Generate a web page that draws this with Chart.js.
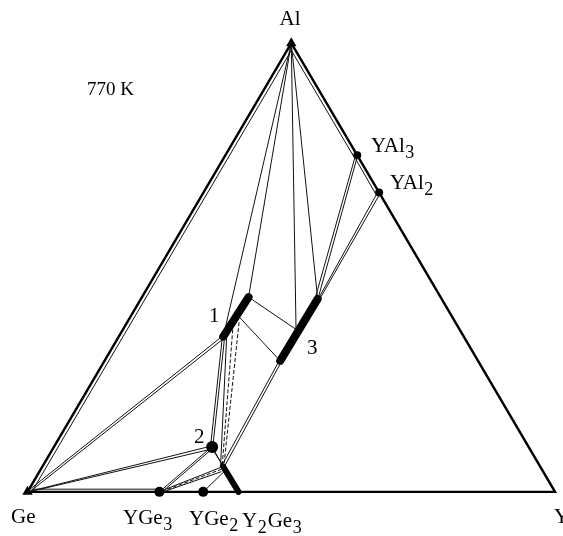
<!DOCTYPE html>
<html>
<head>
<meta charset="utf-8">
<script src="https://cdn.jsdelivr.net/npm/chart.js@4/dist/chart.umd.min.js"></script>
<style>
  html, body { margin: 0; padding: 0; background: #fff; }
  #wrap { width: 563px; height: 536px; }
</style>
</head>
<body>
<div id="wrap"><canvas id="grafico"></canvas></div>
<script>
// composiciones como [fraccion de Y, fraccion de Al]; el resto es Ge
const vertices = [[0, 1], [0, 0], [1, 0]];               // Al, Ge, Y
const compuestosNombres = ['YAl3', 'YAl2', 'YGe3', 'YGe2', '2'];
const compuestos = [[0.25, 0.75], [0.333, 0.667], [0.25, 0], [0.333, 0], [0.3, 0.1]];

// fases con rango de solubilidad (barras gruesas)
const barra1 = [[0.198, 0.346], [0.202, 0.434]];
const barra3 = [[0.333, 0.292], [0.335, 0.43]];
const barraY2Ge3 = [[0.4, 0], [0.342, 0.057]];

// lineas de enlace (tie lines), pares de composiciones
const lineasSolidas = [
  [[0.008, 0.985], [0.008, 0.008]],
  [[0, 1], [0.198, 0.346]],
  [[0, 1], [0.202, 0.434]],
  [[0, 1], [0.328, 0.362]],
  [[0, 1], [0.335, 0.43]],
  [[0.008, 0.984], [0.245, 0.747]],
  [[0.252, 0.741], [0.33, 0.662]],
  [[0.247, 0.749], [0.331, 0.426]],
  [[0.253, 0.742], [0.336, 0.428]],
  [[0.330, 0.664], [0.336, 0.431]],
  [[0.336, 0.662], [0.339, 0.428]],
  [[0.202, 0.434], [0.328, 0.362]],
  [[0.206, 0.39], [0.333, 0.292]],
  [[0.331, 0.294], [0.339, 0.058]],
  [[0.336, 0.293], [0.345, 0.056]],
  [[0.196, 0.347], [0.296, 0.102]],
  [[0.202, 0.343], [0.302, 0.098]],
  [[0, 0], [0.297, 0.102]],
  [[0.003, 0], [0.3, 0.095]],
  [[0, 0.003], [0.195, 0.345]],
  [[0.004, 0], [0.2, 0.34]],
  [[0.005, 0.006], [0.245, 0.006]],
  [[0.3, 0.1], [0.342, 0.057]],
  [[0.303, 0.095], [0.345, 0.055]],
  [[0.25, 0], [0.298, 0.098]],
  [[0.255, 0], [0.302, 0.096]],
  [[0.252, 0.002], [0.34, 0.055]],
  [[0.257, 0], [0.345, 0.045]],
  [[0.333, 0], [0.35, 0.045]],
  [[0.205, 0.345], [0.336, 0.06]]
];
const lineasDiscontinuas = [
  [[0.254, 0.001], [0.342, 0.05]],
  [[0.208, 0.362], [0.34, 0.058]],
  [[0.212, 0.378], [0.344, 0.056]]
];

// textos: [texto, subindice, texto, subindice], posicion en pixeles (izq, base)
const etiquetas = [
  { partes: ['Al'], x: 290, y: 25, centro: true },
  { partes: ['YAl', '3'], x: 371, y: 152 },
  { partes: ['YAl', '2'], x: 390, y: 189 },
  { partes: ['1'], x: 209, y: 322 },
  { partes: ['2'], x: 194, y: 443 },
  { partes: ['3'], x: 307, y: 354 },
  { partes: ['Ge'], x: 11, y: 523 },
  { partes: ['YGe', '3'], x: 123, y: 524 },
  { partes: ['YGe', '2'], x: 189, y: 525 },
  { partes: ['Y', '2', 'Ge', '3'], x: 242, y: 527 },
  { partes: ['Y'], x: 554, y: 523 }
];
const temperatura = '770 K';

function aXY(c) {
  return { x: c[0] + c[1] / 2, y: c[1] };
}

function segmentos(lista) {
  const datos = [];
  lista.forEach(function(par) {
    datos.push(aXY(par[0]), aXY(par[1]), { x: null, y: null });
  });
  return datos;
}

const lineaBase = { showLine: true, pointRadius: 0, fill: false, spanGaps: false, tension: 0 };

const pluginTextos = {
  id: 'textos',
  afterDatasetsDraw: function(chart) {
    const ctx = chart.ctx;
    ctx.save();
    ctx.fillStyle = '#000';
    ctx.textBaseline = 'alphabetic';
    ctx.font = '19px "Liberation Serif"';
    ctx.fillText(temperatura, 87, 95);
    etiquetas.forEach(function(e) {
      let x = e.x;
      if (e.centro) {
        ctx.font = '21px "Liberation Serif"';
        x -= ctx.measureText(e.partes.join('')).width / 2;
      }
      e.partes.forEach(function(p, i) {
        const sub = i % 2 === 1;
        ctx.font = sub ? '18px "Liberation Serif"' : '21px "Liberation Serif"';
        ctx.fillText(p, x, e.y + (sub ? 6 : 0));
        x += ctx.measureText(p).width + (sub ? 1 : 0.5);
      });
    });
    ctx.restore();
  }
};

new Chart(document.getElementById('grafico').getContext('2d'), {
  type: 'scatter',
  data: {
    datasets: [
      Object.assign({}, lineaBase, {
        data: segmentos(lineasSolidas), borderColor: '#111', borderWidth: 1
      }),
      Object.assign({}, lineaBase, {
        data: segmentos(lineasDiscontinuas), borderColor: '#111', borderWidth: 1, borderDash: [4, 2]
      }),
      Object.assign({}, lineaBase, {
        data: [aXY(vertices[0]), aXY(vertices[1]), aXY(vertices[2]), aXY(vertices[0])],
        borderColor: '#000', borderWidth: 2.4
      }),
      Object.assign({}, lineaBase, {
        data: segmentos([barra1, barra3]), borderColor: '#000', borderWidth: 8, borderCapStyle: 'round'
      }),
      Object.assign({}, lineaBase, {
        data: segmentos([barraY2Ge3]), borderColor: '#000', borderWidth: 6, borderCapStyle: 'round'
      }),
      {
        data: compuestos.map(aXY), pointRadius: [4, 4, 5, 5, 6],
        pointBackgroundColor: '#000', pointBorderWidth: 0, showLine: false
      },
      {
        data: [aXY(vertices[0]), aXY(vertices[1])], pointStyle: 'triangle', pointRadius: 6,
        pointBackgroundColor: '#000', pointBorderWidth: 0, showLine: false
      }
    ]
  },
  options: {
    responsive: true,
    maintainAspectRatio: false,
    animation: false,
    layout: { padding: 0 },
    plugins: { legend: { display: false }, tooltip: { enabled: false } },
    scales: {
      x: { type: 'linear', display: false, min: -22 / 539, max: 541 / 539 },
      y: { type: 'linear', display: false, min: -39 / 459, max: 497 / 459 }
    }
  },
  plugins: [pluginTextos]
});
</script>
</body>
</html>
